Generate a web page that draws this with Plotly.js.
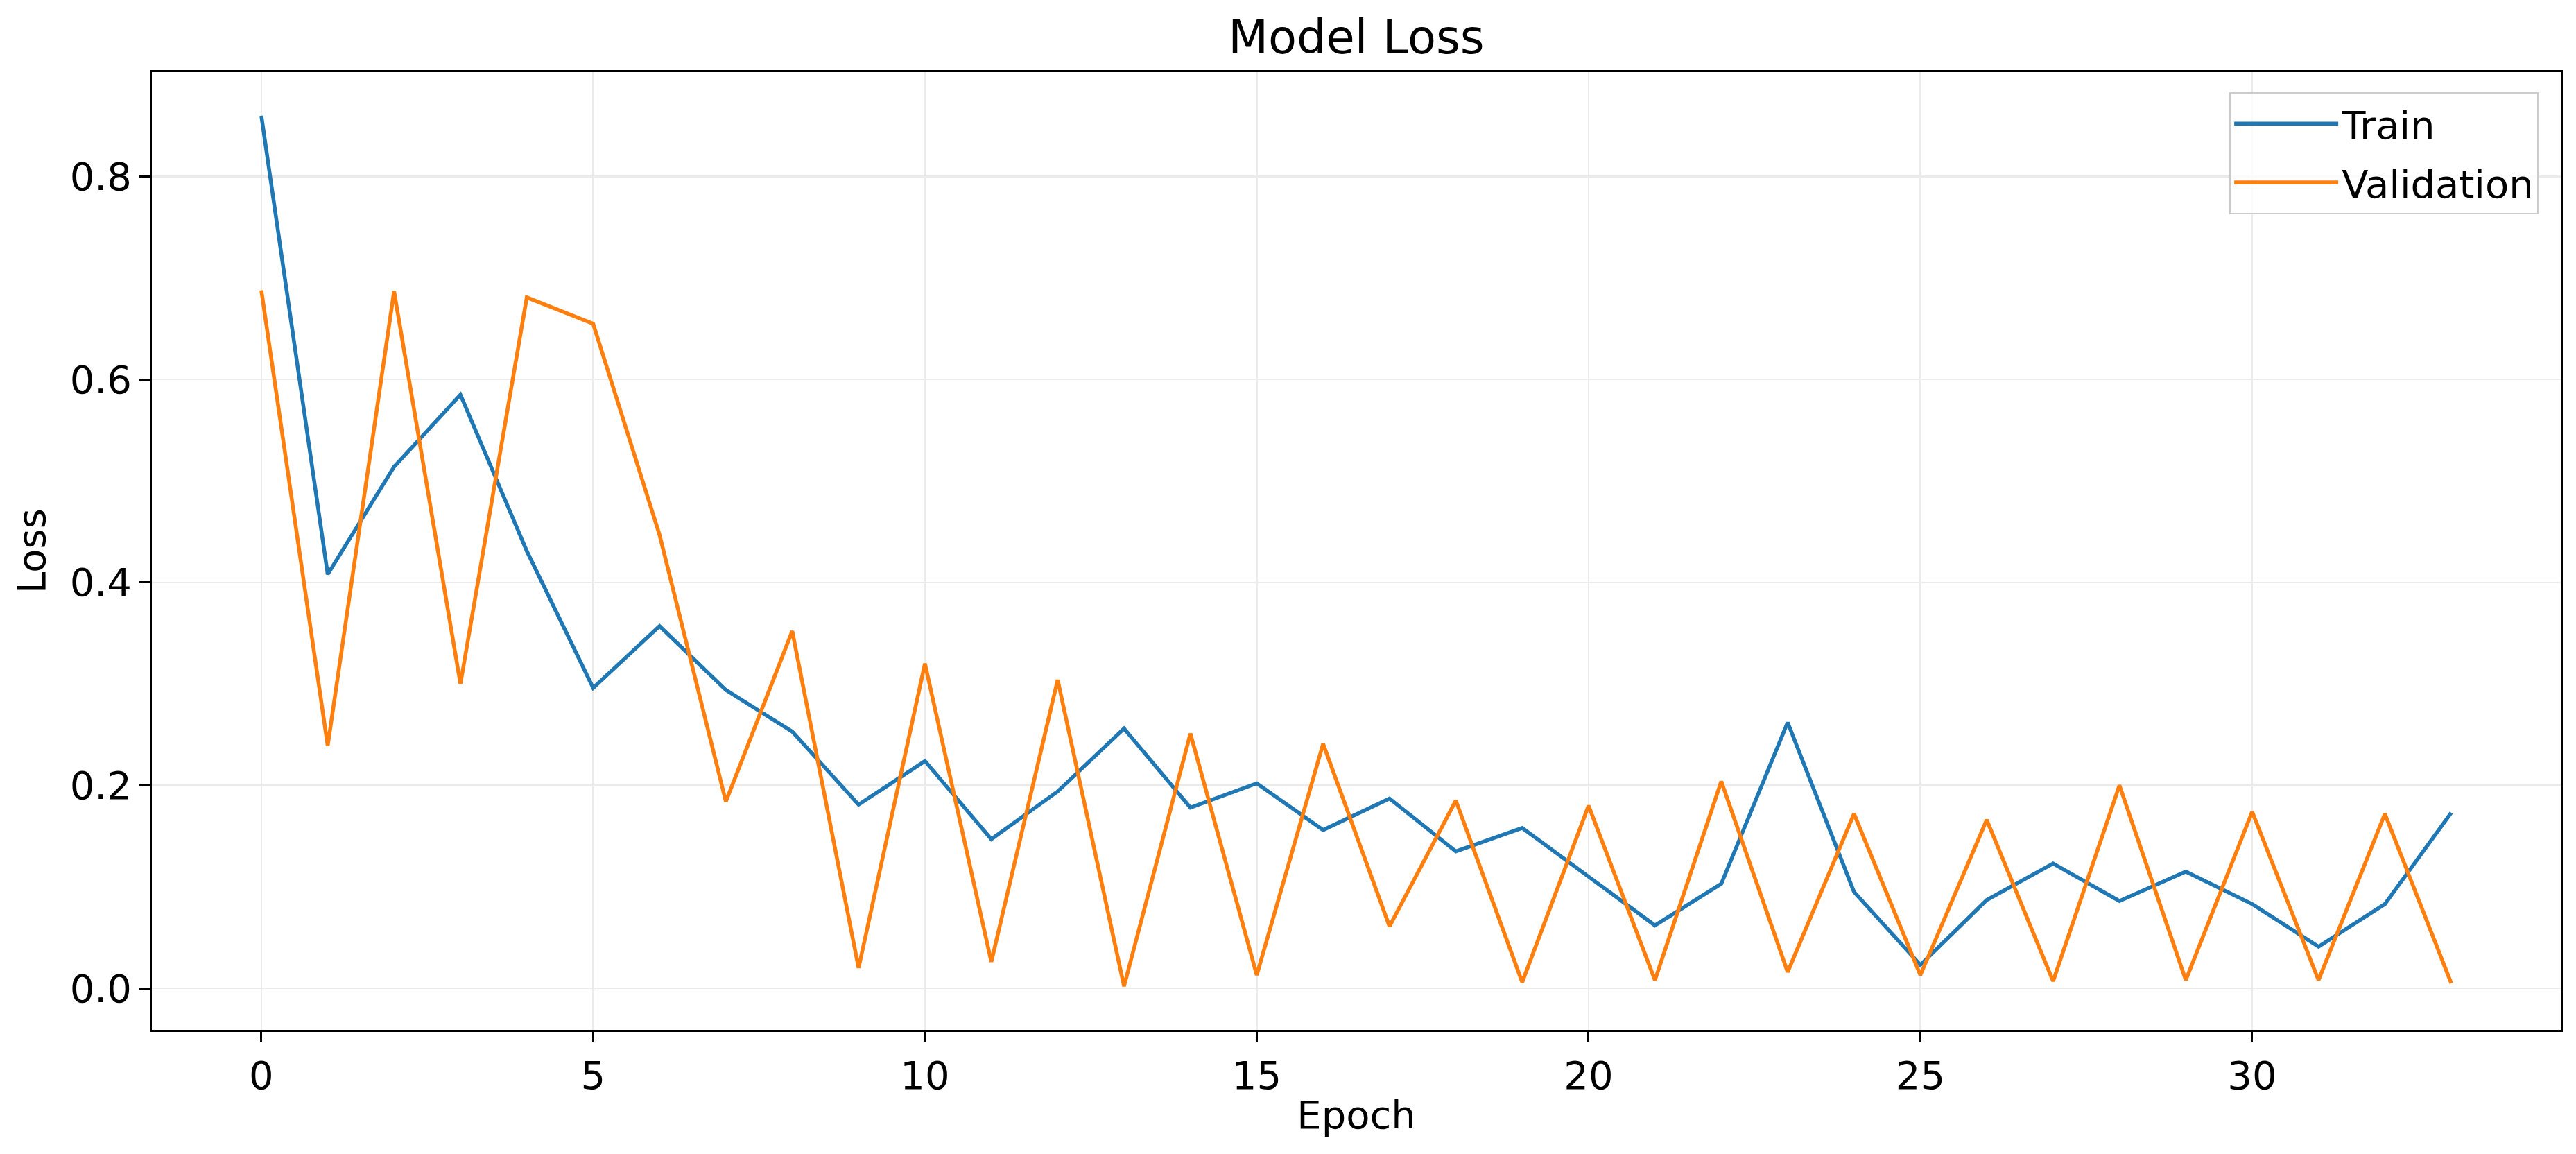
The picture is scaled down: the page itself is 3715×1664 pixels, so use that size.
<!DOCTYPE html>
<html>
<head>
<meta charset="utf-8">
<script src="https://cdn.plot.ly/plotly-3.0.1.min.js"></script>
<style>html,body{margin:0;padding:0;background:#fff;}#chart{width:3715px;height:1664px;}</style>
</head>
<body>
<div id="chart"></div>
<script>
const epochs = [0,1,2,3,4,5,6,7,8,9,10,11,12,13,14,15,16,17,18,19,20,21,22,23,24,25,26,27,28,29,30,31,32,33];
const trainLoss = [0.860,0.408,0.514,0.585,0.431,0.296,0.357,0.294,0.253,0.181,0.224,0.147,0.194,0.256,0.178,0.202,0.156,0.187,0.135,0.158,0.110,0.062,0.103,0.262,0.095,0.023,0.087,0.123,0.086,0.115,0.083,0.041,0.083,0.173];
const valLoss = [0.688,0.239,0.687,0.300,0.681,0.655,0.447,0.184,0.352,0.020,0.320,0.026,0.304,0.002,0.251,0.013,0.241,0.061,0.185,0.006,0.180,0.008,0.204,0.016,0.172,0.013,0.166,0.007,0.200,0.008,0.174,0.008,0.172,0.005];
const seriesNames = ["Train","Validation"];
const yTicks = [0.0,0.2,0.4,0.6,0.8];
const xTicks = [0,5,10,15,20,25,30];

const FONT = "DejaVu Sans, sans-serif";
const traces = [
  {x: epochs, y: trainLoss, type: "scatter", mode: "lines", name: seriesNames[0], legendgroup: "a",
   line: {color: "#1f77b4", width: 5.5}},
  {x: epochs, y: valLoss, type: "scatter", mode: "lines", name: seriesNames[1], legendgroup: "b",
   line: {color: "#ff7f0e", width: 5.5}}
];
const axisCommon = {
  showline: true, linecolor: "#000", linewidth: 3, mirror: true,
  ticks: "outside", ticklen: 15, tickwidth: 3, tickcolor: "#000",
  showgrid: true, gridcolor: "#ebebeb", gridwidth: 2.4, zeroline: false,
  tickfont: {family: FONT, size: 56, color: "#000"}
};
const layout = {
  width: 3715, height: 1664,
  paper_bgcolor: "#fff", plot_bgcolor: "#fff",
  margin: {l: 219, r: 22, t: 104, b: 179, pad: 0},
  font: {family: FONT, color: "#000"},
  title: {text: "Model Loss", font: {family: FONT, size: 67, color: "#000"},
          x: 0.5, xref: "paper", y: 1 - 54/1664, yref: "container", yanchor: "middle"},
  xaxis: Object.assign({}, axisCommon, {
    range: [-1.65, 34.65], tickvals: xTicks, ticktext: xTicks.map(String),
    title: {text: "Epoch", font: {family: FONT, size: 56, color: "#000"}, standoff: 6}
  }),
  yaxis: Object.assign({}, axisCommon, {
    range: [-0.041, 0.903], tickvals: yTicks, ticktext: yTicks.map(v => v.toFixed(1)),
    title: {text: "Loss", font: {family: FONT, size: 56, color: "#000"}, standoff: 18}
  }),
  showlegend: true,
  legend: {x: 0.991, xanchor: "right", y: 0.979, yanchor: "top", traceorder: "grouped",
           bgcolor: "rgba(255,255,255,0.8)", bordercolor: "#cccccc", borderwidth: 2.4,
           font: {family: FONT, size: 56, color: "#000"}, itemwidth: 150, tracegroupgap: 9}
};
Plotly.newPlot("chart", traces, layout, {displayModeBar: false, staticPlot: true});
</script>
</body>
</html>
